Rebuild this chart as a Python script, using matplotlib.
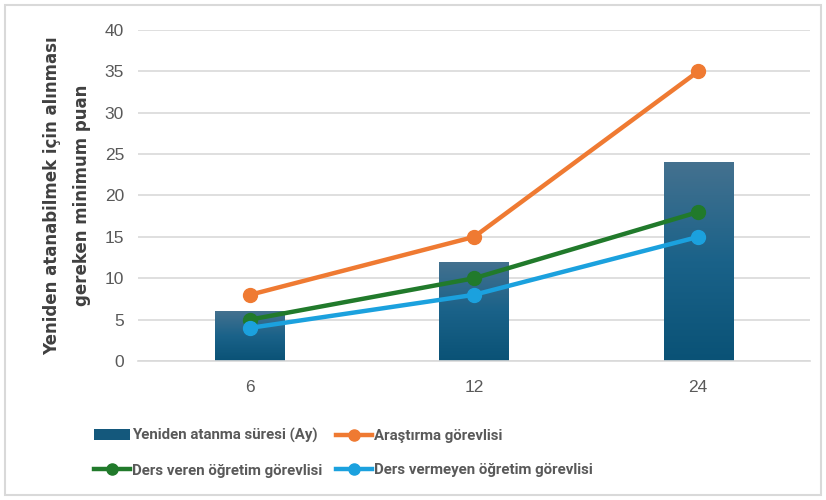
import matplotlib.pyplot as plt
import numpy as np
from matplotlib.colors import LinearSegmentedColormap
from matplotlib.lines import Line2D
from matplotlib.patches import Patch, Rectangle

categories = ["6", "12", "24"]
bar_values = [6, 12, 24]
arastirma = [8, 15, 35]
ders_veren = [5, 10, 18]
ders_vermeyen = [4, 8, 15]

labels = ["Yeniden atanma süresi (Ay)", "Araştırma görevlisi",
          "Ders veren öğretim görevlisi", "Ders vermeyen öğretim görevlisi"]

fig = plt.figure(figsize=(8.26, 5), dpi=100)
fig.patches.append(Rectangle((0.006, 0.01), 0.988, 0.98, transform=fig.transFigure,
                             fill=False, edgecolor="#d9d9d9", lw=1.5))
ax = fig.add_axes([0.167, 0.278, 0.814, 0.662])

x = np.arange(len(categories))
bars = ax.bar(x, bar_values, width=0.31, color="#0f5a7e", zorder=2)

# gradient fill
cmap = LinearSegmentedColormap.from_list("g", ["#0a5276", "#1a6289", "#44718f"])
grad = np.linspace(0, 1, 256).reshape(-1, 1)
for b in bars:
    x0, y0 = b.get_x(), b.get_y()
    w, h = b.get_width(), b.get_height()
    im = ax.imshow(grad, cmap=cmap, aspect="auto", origin="lower",
                   extent=[x0, x0 + w, y0, y0 + h], zorder=2)
    im.set_clip_path(b)
    b.set_facecolor("none")

ax.plot(x, arastirma, color="#ef7a32", lw=3.2, marker="o", ms=10, zorder=3)
ax.plot(x, ders_veren, color="#217a2b", lw=3.2, marker="o", ms=10, zorder=3)
ax.plot(x, ders_vermeyen, color="#1ba1de", lw=3.2, marker="o", ms=10, zorder=4)

ax.set_xlim(-0.5, 2.5)
ax.set_ylim(0, 40)
ax.set_yticks(range(0, 41, 5))
ax.set_xticks(x)
ax.set_xticklabels(categories)
ax.grid(axis="y", color="#d9d9d9", lw=1.2, zorder=0)
ax.set_axisbelow(True)
for s in ["left", "right", "top"]:
    ax.spines[s].set_visible(False)
ax.spines["bottom"].set_color("#d9d9d9")
ax.spines["bottom"].set_linewidth(1.2)
ax.tick_params(length=0, labelsize=12.5, colors="#595959", pad=10)
ax.tick_params(axis="x", pad=14)
for t in ax.get_xticklabels() + ax.get_yticklabels():
    t.set_fontfamily("Liberation Sans")

ax.set_ylabel("Yeniden atanabilmek için alınması\ngereken minimum puan",
              fontsize=12, fontweight="bold", color="#404040", labelpad=10,
              linespacing=1.8)

h_bar = Patch(facecolor="#14587c")
h_ar = Line2D([], [], color="#ef7a32", lw=3.2, marker="o", ms=8)
h_dv = Line2D([], [], color="#217a2b", lw=3.2, marker="o", ms=8)
h_dvm = Line2D([], [], color="#1ba1de", lw=3.2, marker="o", ms=8)
# column-first fill -> rows: bar | arastirma, ders veren | ders vermeyen
fig.legend([h_bar, h_dv, h_ar, h_dvm], [labels[0], labels[2], labels[1], labels[3]],
           loc="lower left", bbox_to_anchor=(0.097, 0.018), ncol=2,
           frameon=False, handlelength=2.4, handletextpad=0.15, columnspacing=0.9,
           labelspacing=1.35, prop={"family": "Roboto", "weight": "bold", "size": 10.8},
           labelcolor="#595959")

fig.savefig("out.png", dpi=100)
